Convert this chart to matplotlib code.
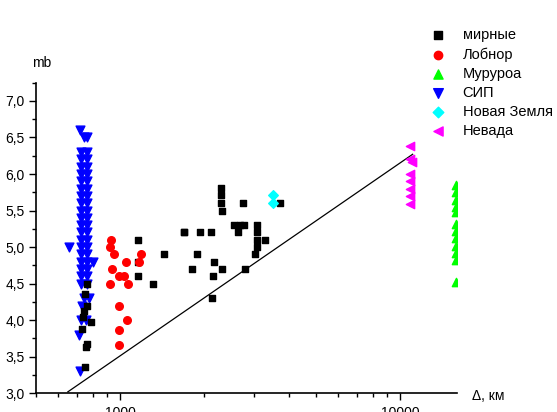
import numpy as np
import matplotlib
matplotlib.use("Agg")
import matplotlib.pyplot as plt
from matplotlib.ticker import FuncFormatter, MultipleLocator, LogLocator, NullFormatter, FixedLocator

plt.rcParams['font.family'] = ['Liberation Sans', 'DejaVu Sans']
plt.rcParams['font.size'] = 10

# мирные (black squares)
mir_x = [760, 747, 760, 743, 785, 731, 760, 753, 751, 738,
         1157, 1696, 1438, 1157, 1157, 1306,
         2300, 2300, 2300, 2320, 2737, 2557, 2690, 2765, 3077,
         1696, 1924, 2106, 2637, 3077, 3077, 3305, 3077,
         1876, 3022, 2173, 1812, 2314, 2788, 2152, 2136, 3714]
mir_y = [4.50, 4.36, 4.19, 4.13, 3.97, 3.88, 3.68, 3.64, 3.36, 4.05,
         5.10, 5.20, 4.90, 4.80, 4.60, 4.50,
         5.81, 5.71, 5.60, 5.50, 5.60, 5.30, 5.30, 5.30, 5.30,
         5.20, 5.20, 5.20, 5.20, 5.20, 5.10, 5.10, 5.00,
         4.90, 4.90, 4.80, 4.70, 4.70, 4.70, 4.60, 4.30, 5.60]

# Лобнор (red circles)
lob_x = [928, 923, 952, 1182, 1051, 1163, 934, 994, 1031, 921, 1066, 994, 1059, 994, 994]
lob_y = [5.10, 5.00, 4.90, 4.90, 4.80, 4.80, 4.70, 4.60, 4.60, 4.50, 4.50, 4.20, 4.00, 3.87, 3.66]

# Муруроа (green triangles)
mur_x = [15800] * 12
mur_y = [5.85, 5.75, 5.65, 5.55, 5.48, 5.32, 5.22, 5.12, 5.02, 4.92, 4.82, 4.52]

# СИП (blue down triangles)
sip_col = [6.3, 6.2, 6.1, 6.0, 5.9, 5.8, 5.7, 5.6, 5.5, 5.4, 5.3, 5.2, 5.1, 5.0,
           4.9, 4.8, 4.7, 4.6, 4.5]
sip_x = [720, 740, 758] + [725] * len(sip_col) + [758] * len(sip_col) + \
        [745, 772, 730, 722, 755, 712, 718, 656, 800]
sip_y = [6.6, 6.5, 6.5] + sip_col + sip_col + \
        [4.3, 4.3, 4.2, 4.0, 4.0, 3.8, 3.3, 5.0, 4.8]

# Новая Земля (cyan diamonds)
nz_x = [3515, 3515]
nz_y = [5.71, 5.60]

# Невада (magenta left triangles)
nev_x = [10900, 10900, 11000, 10900, 10900, 10900, 10900, 10900]
nev_y = [6.39, 6.20, 6.17, 6.00, 5.90, 5.80, 5.70, 5.59]

# reference line
line_x = [650, 11100]
line_y = [3.02, 6.27]

fig = plt.figure(figsize=(5.57, 4.12), dpi=100)
ax = fig.add_axes([0.0646, 0.0454, 0.756, 0.754])

ax.plot(line_x, line_y, color='black', lw=0.9, zorder=1)
ax.scatter(mir_x, mir_y, marker='s', s=24, c='black', label='мирные', zorder=3)
ax.scatter(lob_x, lob_y, marker='o', s=30, c='red', label='Лобнор', zorder=3)
ax.scatter(mur_x, mur_y, marker='^', s=36, c='#00ff00', label='Муруроа', zorder=3)
ax.scatter(sip_x, sip_y, marker='v', s=40, c='blue', label='СИП', zorder=2)
ax.scatter(nz_x, nz_y, marker='D', s=24, c='cyan', label='Новая Земля', zorder=3)
ax.scatter(nev_x, nev_y, marker='<', s=36, c='magenta', label='Невада', zorder=3)

ax.set_xscale('log')
ax.set_xlim(500, 16000)
ax.set_ylim(3.0, 7.25)

ax.xaxis.set_major_locator(FixedLocator([1000, 10000]))
ax.xaxis.set_major_formatter(FuncFormatter(lambda v, p: '%d' % v))
ax.xaxis.set_minor_locator(LogLocator(base=10, subs=np.arange(2, 10)))
ax.xaxis.set_minor_formatter(NullFormatter())

ax.yaxis.set_major_locator(MultipleLocator(0.5))
ax.yaxis.set_minor_locator(MultipleLocator(0.25))
ax.yaxis.set_major_formatter(FuncFormatter(lambda v, p: ('%.1f' % v).replace('.', ',')))

ax.tick_params(which='major', direction='out', length=5, width=1, pad=3)
ax.tick_params(which='minor', direction='out', length=3, width=1)
ax.tick_params(axis='x', which='major', pad=4)

for s in ['top', 'right']:
    ax.spines[s].set_visible(False)
for s in ['left', 'bottom']:
    ax.spines[s].set_linewidth(1.2)

fig.text(0.075, 0.848, 'mb', ha='center', va='center')
fig.text(0.848, 0.04, 'Δ, км', ha='left', va='center')

ax.legend(loc='upper left', bbox_to_anchor=(0.765, 0.932), bbox_transform=fig.transFigure,
          frameon=False, handletextpad=0.9, labelspacing=0.35, borderaxespad=0,
          borderpad=0, markerscale=1.1, handlelength=1.6, fontsize=10.5)

fig.savefig('out.png', dpi=100)
